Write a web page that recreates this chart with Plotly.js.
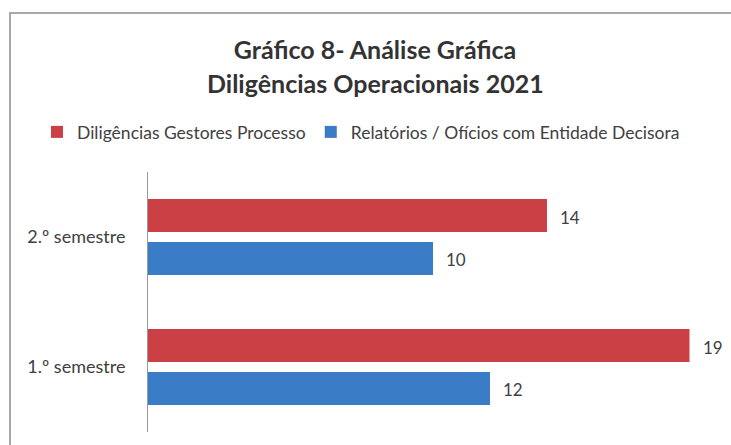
<!DOCTYPE html>
<html>
<head>
<meta charset="utf-8">
<script src="https://cdn.plot.ly/plotly-3.0.1.min.js"></script>
<style>html,body{margin:0;padding:0;background:#fff;}#chart{width:731px;height:445px;}</style>
</head>
<body>
<div id="chart"></div>
<script>
// Data
const categories = ["1.º semestre", "2.º semestre"];
const seriesNames = ["Diligências Gestores Processo", "Relatórios / Ofícios com Entidade Decisora"];
const gestoresValues = [19, 14];
const relatoriosValues = [12, 10];
const titleLine1 = "Gráfico 8- Análise Gráfica";
const titleLine2 = "Diligências Operacionais 2021";

const RED = "#CB4044";
const BLUE = "#3B7CC6";
const FONT = "Lato, 'Open Sans', sans-serif";

// Blue trace first so that it sits below the red bar in each group
const traces = [
  {type: "bar", orientation: "h", name: seriesNames[1], y: categories, x: relatoriosValues,
   marker: {color: BLUE}, hoverinfo: "x+name"},
  {type: "bar", orientation: "h", name: seriesNames[0], y: categories, x: gestoresValues,
   marker: {color: RED}, hoverinfo: "x+name"}
];

// Value labels next to each bar end
const annotations = [];
categories.forEach((c, i) => {
  annotations.push({x: gestoresValues[i], y: c, xref: "x", yref: "y", text: String(gestoresValues[i]),
    showarrow: false, xanchor: "left", yanchor: "middle", xshift: 11, yshift: 20,
    font: {family: FONT, size: 17, color: "#404040"}});
  annotations.push({x: relatoriosValues[i], y: c, xref: "x", yref: "y", text: String(relatoriosValues[i]),
    showarrow: false, xanchor: "left", yanchor: "middle", xshift: 11, yshift: -22,
    font: {family: FONT, size: 17, color: "#404040"}});
});
annotations.push({text: "<b>" + titleLine2 + "</b>", xref: "paper", yref: "paper", x: (375 - 148) / 570, y: (432 - 83) / 260,
  xanchor: "center", yanchor: "middle", showarrow: false, font: {family: FONT, size: 25, color: "#333"}});

const layout = {
  width: 731, height: 445,
  margin: {l: 148, r: 13, t: 172, b: 13},
  paper_bgcolor: "#ffffff", plot_bgcolor: "#ffffff",
  font: {family: FONT, color: "#404040", size: 18},
  title: {text: "<b>" + titleLine1 + "</b>", x: 375 / 731, xanchor: "center", y: 1 - 50 / 445, yanchor: "middle",
    font: {family: FONT, size: 25, color: "#333"}},
  barmode: "group", bargap: 0.34, bargroupgap: 0.23,
  showlegend: true,
  legend: {orientation: "h", x: (37 - 148) / 570, xanchor: "left", y: (432 - 132) / 260, yanchor: "middle",
    traceorder: "reversed", font: {family: FONT, size: 17.5, color: "#404040"}, bgcolor: "rgba(0,0,0,0)"},
  xaxis: {range: [0, 20], showgrid: false, zeroline: false, showticklabels: false, showline: false, fixedrange: true},
  yaxis: {type: "category", range: [-0.5, 1.5], showgrid: false, zeroline: false, showline: true,
    linecolor: "#9a9a9a", linewidth: 1, ticks: "", ticklabelstandoff: 18,
    tickfont: {family: FONT, size: 18, color: "#404040"}, fixedrange: true},
  shapes: [{type: "rect", xref: "paper", yref: "paper", x0: (10 - 148) / 570, x1: 1.05, y0: -0.1, y1: (432 - 13) / 260,
    line: {color: "#a8a8a8", width: 2}, fillcolor: "rgba(0,0,0,0)", layer: "below"}],
  annotations: annotations
};

Plotly.newPlot("chart", traces, layout, {displayModeBar: false, staticPlot: true});
</script>
</body>
</html>
